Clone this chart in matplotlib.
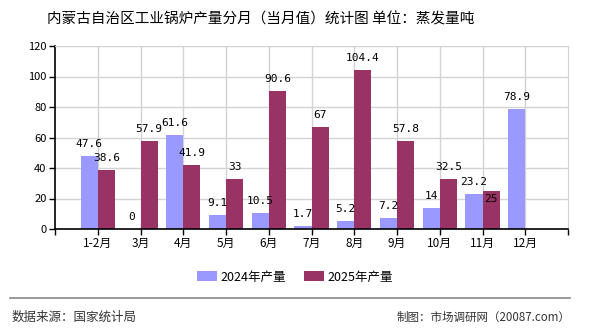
import matplotlib
matplotlib.use("Agg")
import matplotlib.pyplot as plt
import numpy as np
from matplotlib.patches import Patch
from matplotlib.lines import Line2D

plt.rcParams['font.family'] = ['Noto Sans CJK SC', 'DejaVu Sans']

categories = ['1-2月', '3月', '4月', '5月', '6月', '7月', '8月', '9月', '10月', '11月', '12月']
v2024 = [47.6, 0, 61.6, 9.1, 10.5, 1.7, 5.2, 7.2, 14, 23.2, 78.9]
v2025 = [38.6, 57.9, 41.9, 33, 90.6, 67, 104.4, 57.8, 32.5, 25, np.nan]
labels2024 = ['47.6', '0', '61.6', '9.1', '10.5', '1.7', '5.2', '7.2', '14', '23.2', '78.9']
labels2025 = ['38.6', '57.9', '41.9', '33', '90.6', '67', '104.4', '57.8', '32.5', '25', '']
series_names = ['2024年产量', '2025年产量']
colors = ['#9999FF', '#993366']
yticks = [0, 20, 40, 60, 80, 100, 120]

W, H = 590, 330
fig = plt.figure(figsize=(W / 100, H / 100), dpi=100)
ax = fig.add_axes([55 / W, 1 - 229 / H, (568 - 55) / W, (229 - 46) / H])

x = np.arange(len(categories))
bw = 0.4
b1 = ax.bar(x - bw / 2, v2024, bw, color=colors[0], zorder=2)
b2 = ax.bar(x + bw / 2, v2025, bw, color=colors[1], zorder=2)

for xi, v, lab in zip(x - bw / 2, v2024, labels2024):
    ax.annotate(lab, (xi, v), xytext=(0, 8.6), textcoords='offset points',
                ha='center', va='center', fontsize=8, family='DejaVu Sans Mono', zorder=3)
for xi, v, lab in zip(x + bw / 2, v2025, labels2025):
    if not lab:
        continue
    off = 8.6
    if lab == '25':
        off = -6
    ax.annotate(lab, (xi, v), xytext=(0, off), textcoords='offset points',
                ha='center', va='center', fontsize=8, family='DejaVu Sans Mono', zorder=3)

ax.set_xlim(-1, len(categories))
ax.set_ylim(0, 120)
ax.set_yticks(yticks)
ax.set_yticklabels([str(t) for t in yticks], fontsize=8)
ax.set_xticks(x)
ax.set_xticklabels(categories, fontsize=8.5)
ax.set_xticks([-1, len(categories)], minor=True)
ax.tick_params(axis='x', which='both', length=4, direction='out', width=1, pad=2)
ax.tick_params(axis='y', length=4, direction='out', width=1, pad=2)

ax.grid(True, color='#d3d3d3', lw=1, zorder=0)
ax.set_axisbelow(True)
for s in ['top', 'right']:
    ax.spines[s].set_color('#d3d3d3')
for s in ['left', 'bottom']:
    ax.spines[s].set_color('black')
    ax.spines[s].set_linewidth(1.2)

fig.text(261 / W, 1 - 19 / H, '内蒙古自治区工业锅炉产量分月（当月值）统计图 单位：蒸发量吨',
         ha='center', va='center', fontsize=10.5, color='#000000')

handles = [Patch(facecolor=c, edgecolor='none') for c in colors]
fig.legend(handles, series_names, loc='center', bbox_to_anchor=(0.5, 1 - 277 / H), ncol=2,
           frameon=False, fontsize=9, handlelength=1.6, handleheight=0.8,
           columnspacing=1.4, handletextpad=0.3)

fig.add_artist(Line2D([10 / W, 570 / W], [1 - 298 / H, 1 - 298 / H], color='#888888', lw=1.2))
fig.text(12 / W, 1 - 317 / H, '数据来源：国家统计局', ha='left', va='center', fontsize=9, color='#333333')
fig.text(570 / W, 1 - 317 / H, '制图：市场调研网（20087.com）', ha='right', va='center', fontsize=8.3, color='#333333')

fig.savefig('out.png', dpi=100)
